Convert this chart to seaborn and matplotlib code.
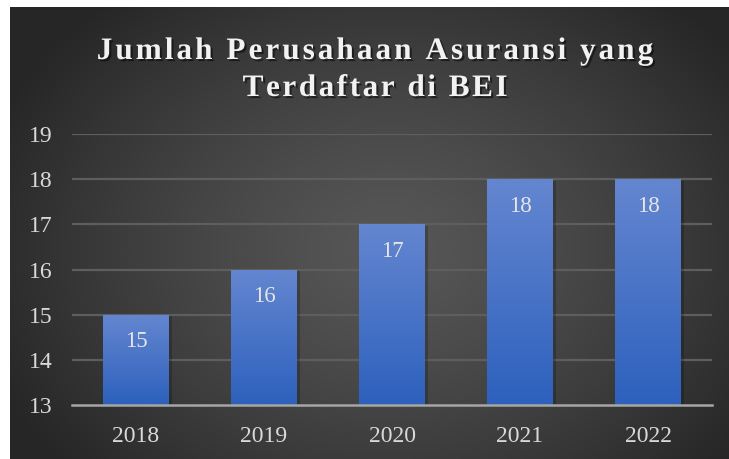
import numpy as np
import seaborn as sns
import matplotlib.pyplot as plt
import matplotlib.patheffects as pe

# data
years = ['2018', '2019', '2020', '2021', '2022']
jumlah = [15, 16, 17, 18, 18]
y_ticks = [13, 14, 15, 16, 17, 18, 19]
title_lines = ['Jumlah Perusahaan Asuransi yang', 'Terdaftar di BEI']

W, H = 729, 459
sns.set_theme(style='white')
plt.rcParams['font.family'] = ['Liberation Serif', 'DejaVu Serif']

fig = plt.figure(figsize=(W / 100, H / 100), dpi=100)

# latar belakang: gradasi radial gelap
bg = fig.add_axes([0, 0, 1, 1], zorder=-10)
xx, yy = np.meshgrid(np.arange(W), np.arange(H))
r = np.sqrt(((xx - 390) / 430.0) ** 2 + ((yy - 250) / 330.0) ** 2)
r = np.clip(r, 0, 1)
g = 0.34 - 0.19 * r ** 1.3
img = np.dstack([g, g, g])
img[:, :10] = 1.0
img[:7, :] = 1.0
bg.imshow(img, extent=[0, W, H, 0], aspect='auto', interpolation='bilinear')
bg.set_xlim(0, W)
bg.set_ylim(H, 0)
bg.axis('off')

# sumbu utama
ax = fig.add_axes([72 / W, 1 - 405 / H, (712 - 72) / W, (405 - 134) / H])
ax.set_facecolor('none')

sns.barplot(x=years, y=jumlah, color='#4472c4', width=0.51, ax=ax,
            saturation=1, zorder=3, linewidth=0, edgecolor='none')

ax.set_ylim(13, 19)
ax.set_xlim(-0.5, 4.5)

# gradasi biru pada batang
grad = np.linspace(0, 1, 100).reshape(-1, 1)
top_c = np.array([0x64, 0x86, 0xd0]) / 255
bot_c = np.array([0x2d, 0x61, 0xbd]) / 255
bar_img = top_c * (1 - grad[..., None]) + bot_c * grad[..., None]
for p, v in zip(ax.patches, jumlah):
    x0 = p.get_x()
    w = p.get_width()
    p.set_path_effects([pe.SimplePatchShadow(offset=(2.5, -1), shadow_rgbFace='black', alpha=0.2), pe.Normal()])
    im = ax.imshow(bar_img, extent=[x0, x0 + w, 13, v], aspect='auto',
                   zorder=4, interpolation='bilinear')
    im.set_clip_path(p)
    ax.text(x0 + w / 2, v - 0.6, str(v), ha='center', va='center',
            fontsize=16.5, color='#e6e6e6', zorder=6)

ax.set_xlim(-0.5, 4.5)
ax.set_ylim(13, 19)
ax.set_yticks(y_ticks)
ax.set_yticklabels([str(t) for t in y_ticks])

for t in y_ticks[1:]:
    ax.axhline(t, color='#5e5e5e', lw=1.6, zorder=1)

for s in ['top', 'right', 'left']:
    ax.spines[s].set_visible(False)
ax.spines['bottom'].set_color('#a6a6a6')
ax.spines['bottom'].set_linewidth(1.8)
ax.spines['bottom'].set_zorder(7)

ax.tick_params(axis='both', length=0, labelsize=17, labelcolor='#d9d9d9')
ax.tick_params(axis='y', pad=14)
ax.tick_params(axis='x', pad=15)
ax.set_xlabel('')
ax.set_ylabel('')

# judul dengan jarak antar huruf
renderer = fig.canvas.get_renderer()
shadow = [pe.SimplePatchShadow(offset=(1.5, -1.5), shadow_rgbFace='black', alpha=0.5), pe.Normal()]


def spaced_title(text, cy, spacing, size=22.5):
    parts = []
    widths = []
    for ch in text:
        t = fig.text(0, 0, ch, fontsize=size, fontweight='bold', color='#f2f2f2',
                     ha='left', va='baseline', path_effects=shadow)
        wpx = t.get_window_extent(renderer).width if ch != ' ' else size * 100 / 72 * 0.25
        parts.append(t)
        widths.append(wpx)
    total = sum(widths) + spacing * (len(text) - 1)
    x = 375 - total / 2
    for t, wpx in zip(parts, widths):
        t.set_position((x / W, 1 - cy / H))
        x += wpx + spacing


spaced_title(title_lines[0], 59, 3.0)
spaced_title(title_lines[1], 96, 2.5)

fig.savefig('out.png', dpi=100)
